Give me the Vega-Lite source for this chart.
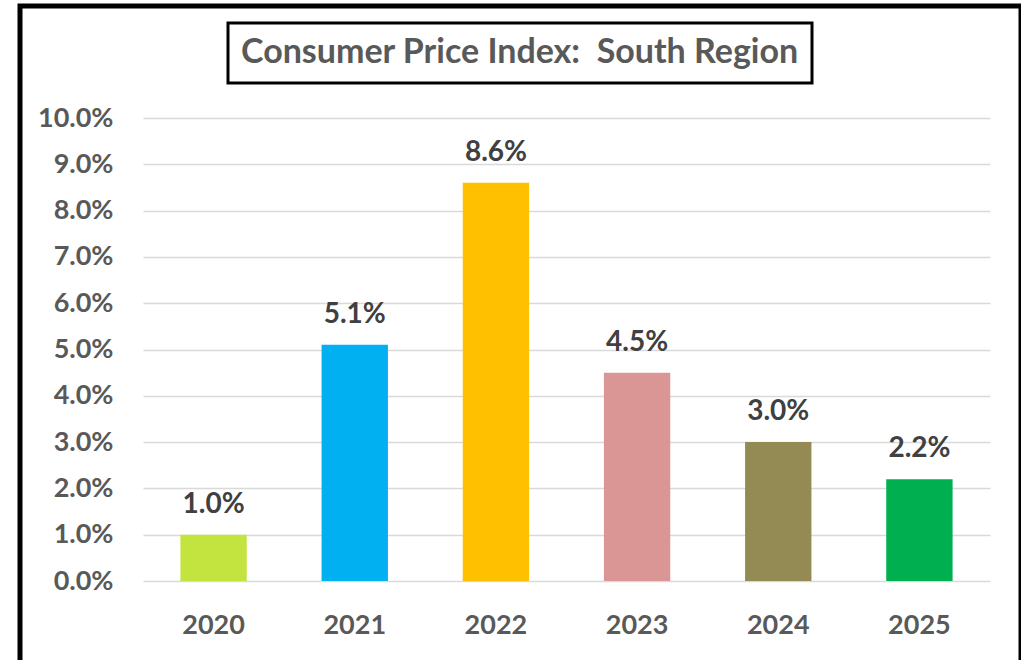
{
  "$schema": "https://vega.github.io/schema/vega-lite/v6.json",
  "width": 1001,
  "height": 700,
  "autosize": "none",
  "padding": {"left": 20, "top": 6, "right": 0, "bottom": 0},
  "background": "white",
  "config": {
    "view": {"stroke": "black", "strokeWidth": 5},
    "font": "Lato",
    "legend": {"strokeWidth": 3}
  },
  "data": {
    "values": [
      {"year": "2020", "value": 0.010},
      {"year": "2021", "value": 0.051},
      {"year": "2022", "value": 0.086},
      {"year": "2023", "value": 0.045},
      {"year": "2024", "value": 0.030},
      {"year": "2025", "value": 0.022}
    ]
  },
  "encoding": {
    "x": {
      "field": "year",
      "type": "ordinal",
      "scale": {"range": [123, 970], "paddingInner": 0.53, "paddingOuter": 0.265},
      "axis": {
        "orient": "bottom",
        "offset": -125,
        "title": null,
        "labelAngle": 0,
        "ticks": false,
        "domain": false,
        "labelPadding": 31,
        "labelFont": "Lato",
        "labelFontSize": 27,
        "labelFontWeight": "bold",
        "labelColor": "#595959"
      }
    },
    "y": {
      "field": "value",
      "type": "quantitative",
      "scale": {"domain": [0, 0.1], "range": [575, 112], "nice": false, "zero": true},
      "axis": {
        "orient": "left",
        "offset": -123,
        "title": null,
        "format": ".1%",
        "values": [0, 0.01, 0.02, 0.03, 0.04, 0.05, 0.06, 0.07, 0.08, 0.09, 0.1],
        "ticks": false,
        "domain": false,
        "grid": true,
        "gridColor": "#D9D9D9",
        "gridWidth": 1.5,
        "labelPadding": 30,
        "labelFont": "Lato",
        "labelFontSize": 27,
        "labelFontWeight": "bold",
        "labelColor": "#595959"
      }
    }
  },
  "layer": [
    {
      "mark": {"type": "bar"},
      "encoding": {
        "color": {
          "field": "year",
          "type": "ordinal",
          "scale": {
            "domain": ["2020", "2021", "2022", "2023", "2024", "2025"],
            "range": ["#C3E33E", "#00B0F0", "#FFC000", "#DA9694", "#948A54", "#00B050"]
          },
          "legend": {
            "values": [],
            "title": "Consumer Price Index:\u00a0 South Region",
            "orient": "none",
            "legendX": 208,
            "legendY": 17,
            "strokeColor": "black",
            "padding": 13,
            "titleFont": "Lato",
            "titleFontSize": 34,
            "titleFontWeight": "bold",
            "titleColor": "#595959",
            "titleLimit": 2000,
            "titlePadding": 0
          }
        }
      }
    },
    {
      "mark": {
        "type": "text",
        "baseline": "alphabetic",
        "dy": -22,
        "font": "Lato",
        "fontSize": 28,
        "fontWeight": "bold",
        "color": "#404040"
      },
      "encoding": {
        "text": {"field": "value", "type": "quantitative", "format": ".1%"}
      }
    }
  ]
}
